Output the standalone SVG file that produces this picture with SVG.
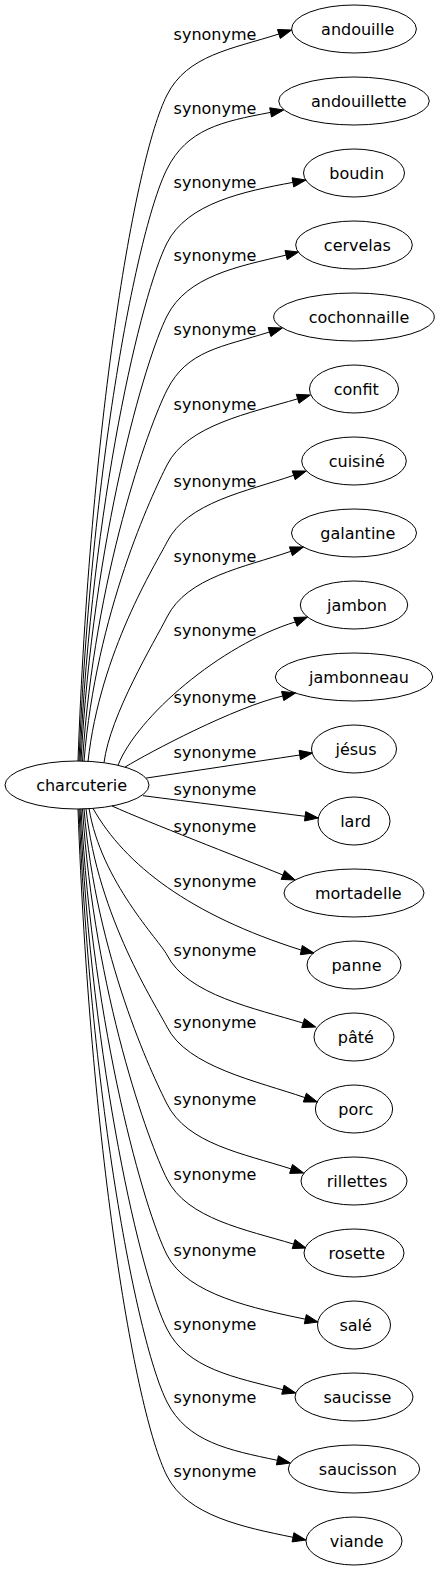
<svg xmlns="http://www.w3.org/2000/svg" width="440" height="1571" viewBox="0 0 440 1571">
<style>
.node ellipse{fill:none;stroke:#000;stroke-width:1}
.edge path{fill:none;stroke:#000;stroke-width:1}
.edge polygon{fill:#000;stroke:#000;stroke-width:1}
text{font-family:"DejaVu Sans",sans-serif;font-size:16px;fill:#000;text-anchor:middle}
</style>
<rect width="440" height="1571" fill="#fff"/>
<g id="edges">
<g class="edge"><path d="M78,761 C90,428 134,160.2 167,95 C187.25,55 231.25,49.2 278.9,34"/><polygon points="291.6,30 280.3,38.5 277.5,29.5"/><text x="215" y="40">synonyme</text></g>
<g class="edge"><path d="M79,761 C91,465 137.7,226.9 167,169 C187.25,129 221.45,121.6 270.6,112.4"/><polygon points="283.7,110 271.5,117 269.7,107.8"/><text x="215" y="114">synonyme</text></g>
<g class="edge"><path d="M80,761 C92,502 141.35,293.7 167,243 C187.25,203 243.75,191.45 292.9,182.4"/><polygon points="306,180 293.75,187 292.05,177.8"/><text x="215" y="188">synonyme</text></g>
<g class="edge"><path d="M81,761.1 C93,538.6 145,359.6 167,316 C187.25,276 237.5,266.65 286.1,255.1"/><polygon points="298.5,252 287.2,259.7 285,250.5"/><text x="215" y="261">synonyme</text></g>
<g class="edge"><path d="M82.5,761.2 C94.5,575.6 148.6,426.3 167,390 C187.25,350 221.85,347.1 269.5,332"/><polygon points="282.4,328 270.9,336.5 268.1,327.5"/><text x="215" y="335">synonyme</text></g>
<g class="edge"><path d="M84,761.4 C96,613.2 152.3,494 167,465 C187.25,425 249.75,413.15 297.65,398.8"/><polygon points="310.4,395 299,403.3 296.3,394.3"/><text x="215" y="410">synonyme</text></g>
<g class="edge"><path d="M88,761.6 C100,651.75 156.2,563.5 167,542 C187.25,502 246.45,491.6 293.7,475.3"/><polygon points="306.3,471 295.2,479.7 292.2,470.9"/><text x="215" y="487">synonyme</text></g>
<g class="edge"><path d="M104,762.75 C110,715 154.4,641.9 167,617 C187.25,577 243.65,567.55 290.9,551.3"/><polygon points="303.5,547 292.4,555.7 289.4,546.9"/><text x="215" y="562">synonyme</text></g>
<g class="edge"><path d="M118,765.3 C137,717 220,645 295.4,621.9"/><polygon points="307.6,617 297.1,626.3 293.7,617.5"/><text x="215" y="636">synonyme</text></g>
<g class="edge"><path d="M125,767.1 C150,752 234,707.4 282.7,696"/><polygon points="295.6,693 283.8,700.6 281.6,691.4"/><text x="215" y="703">synonyme</text></g>
<g class="edge"><path d="M146,778.1 C190,771.5 250,762.5 299.75,755"/><polygon points="312.5,753 300.45,759.65 299.05,750.35"/><text x="215" y="758">synonyme</text></g>
<g class="edge"><path d="M143,795.7 C190,801.7 250,809.3 305.1,816.3"/><polygon points="318.3,818 304.5,821 305.7,811.6"/><text x="215" y="795">synonyme</text></g>
<g class="edge"><path d="M112,806 C150,823 236.55,856.3 282.9,875"/><polygon points="295.2,880 281.1,879.4 284.7,870.6"/><text x="215" y="832">synonyme</text></g>
<g class="edge"><path d="M93,808.4 C125,865 190,915 301.3,950.1"/><polygon points="314,953 300.3,954.7 302.3,945.5"/><text x="215" y="887">synonyme</text></g>
<g class="edge"><path d="M89,808.3 C101,881.65 159.75,940.7 167,955 C187.25,995 255.3,1008.45 303.1,1023.1"/><polygon points="315.8,1027 301.7,1027.6 304.5,1018.6"/><text x="215" y="956">synonyme</text></g>
<g class="edge"><path d="M86,808.7 C98,917.85 156.2,1005.6 167,1027 C187.25,1067 257.6,1081.2 304.85,1097.6"/><polygon points="317.4,1102 303.3,1102 306.4,1093.2"/><text x="215" y="1028">synonyme</text></g>
<g class="edge"><path d="M84,808.8 C96,956.4 152.4,1075.1 167,1104 C187.25,1144 243.45,1153.6 291.05,1168.9"/><polygon points="303.7,1173 289.6,1173.4 292.5,1164.4"/><text x="215" y="1105">synonyme</text></g>
<g class="edge"><path d="M82.5,808.9 C94.5,993.95 148.7,1142.8 167,1179 C187.25,1219 245.75,1229.55 293.6,1244.1"/><polygon points="306,1248 292.2,1248.6 295,1239.6"/><text x="215" y="1180">synonyme</text></g>
<g class="edge"><path d="M81,808.9 C93,1031.95 144.9,1211.3 167,1255 C187.25,1295 256.4,1308.85 305.3,1319.2"/><polygon points="318,1322 304.3,1323.8 306.3,1314.6"/><text x="215" y="1256">synonyme</text></g>
<g class="edge"><path d="M80,809 C92,1069 141.3,1278.1 167,1329 C187.25,1369 234.5,1377.2 282.9,1389.7"/><polygon points="295.8,1393 281.7,1394.25 284.1,1385.15"/><text x="215" y="1330">synonyme</text></g>
<g class="edge"><path d="M79,809 C91,1105.5 137.7,1344 167,1402 C187.25,1442 228.5,1450.05 277.4,1460.3"/><polygon points="290.4,1463 276.4,1464.9 278.4,1455.7"/><text x="215" y="1403">synonyme</text></g>
<g class="edge"><path d="M78,809 C90,1142.5 134,1410.7 167,1476 C187.25,1516 244,1527.3 293,1537.3"/><polygon points="306,1540 292.1,1541.9 293.9,1532.7"/><text x="215" y="1477">synonyme</text></g>
</g>
<g id="node-charcuterie" class="node"><ellipse cx="77" cy="785" rx="72" ry="24"/><text x="81.6" y="790.6">charcuterie</text></g>
<g id="node-andouille" class="node"><ellipse cx="354" cy="29" rx="62.4" ry="24"/><text x="357.7" y="34.6">andouille</text></g>
<g id="node-andouillette" class="node"><ellipse cx="354" cy="101" rx="75.3" ry="24"/><text x="358.8" y="106.6">andouillette</text></g>
<g id="node-boudin" class="node"><ellipse cx="354" cy="173" rx="50.5" ry="24"/><text x="356.7" y="178.6">boudin</text></g>
<g id="node-cervelas" class="node"><ellipse cx="354" cy="245" rx="58.3" ry="24"/><text x="357.4" y="250.6">cervelas</text></g>
<g id="node-cochonnaille" class="node"><ellipse cx="354" cy="317" rx="80.3" ry="24"/><text x="359" y="322.6">cochonnaille</text></g>
<g id="node-confit" class="node"><ellipse cx="354" cy="389" rx="44.5" ry="24"/><text x="356.3" y="394.6">confit</text></g>
<g id="node-cuisine" class="node"><ellipse cx="354" cy="461" rx="52.3" ry="24"/><text x="356.8" y="466.6">cuisiné</text></g>
<g id="node-galantine" class="node"><ellipse cx="354" cy="533" rx="62.5" ry="24"/><text x="357.8" y="538.6">galantine</text></g>
<g id="node-jambon" class="node"><ellipse cx="354" cy="605" rx="53.7" ry="24"/><text x="357" y="610.6">jambon</text></g>
<g id="node-jambonneau" class="node"><ellipse cx="354" cy="677" rx="78.7" ry="24"/><text x="359" y="682.6">jambonneau</text></g>
<g id="node-jesus" class="node"><ellipse cx="354" cy="749" rx="42.5" ry="24"/><text x="356" y="754.6">jésus</text></g>
<g id="node-lard" class="node"><ellipse cx="354" cy="821" rx="36" ry="24"/><text x="355.5" y="826.6">lard</text></g>
<g id="node-mortadelle" class="node"><ellipse cx="354" cy="893" rx="70" ry="24"/><text x="358.3" y="898.6">mortadelle</text></g>
<g id="node-panne" class="node"><ellipse cx="354" cy="965" rx="47" ry="24"/><text x="356.5" y="970.6">panne</text></g>
<g id="node-pate" class="node"><ellipse cx="354" cy="1037" rx="40" ry="24"/><text x="355.8" y="1042.6">pâté</text></g>
<g id="node-porc" class="node"><ellipse cx="354" cy="1109" rx="38.6" ry="24"/><text x="355.8" y="1114.6">porc</text></g>
<g id="node-rillettes" class="node"><ellipse cx="354" cy="1181" rx="53" ry="24"/><text x="357" y="1186.6">rillettes</text></g>
<g id="node-rosette" class="node"><ellipse cx="354" cy="1253" rx="50" ry="24"/><text x="356.8" y="1258.6">rosette</text></g>
<g id="node-sale" class="node"><ellipse cx="354" cy="1325" rx="36.5" ry="24"/><text x="355.6" y="1330.6">salé</text></g>
<g id="node-saucisse" class="node"><ellipse cx="354" cy="1397" rx="59" ry="24"/><text x="357.4" y="1402.6">saucisse</text></g>
<g id="node-saucisson" class="node"><ellipse cx="354" cy="1469" rx="65.7" ry="24"/><text x="357.9" y="1474.6">saucisson</text></g>
<g id="node-viande" class="node"><ellipse cx="354" cy="1541" rx="48" ry="24"/><text x="356.7" y="1546.6">viande</text></g>
</svg>
